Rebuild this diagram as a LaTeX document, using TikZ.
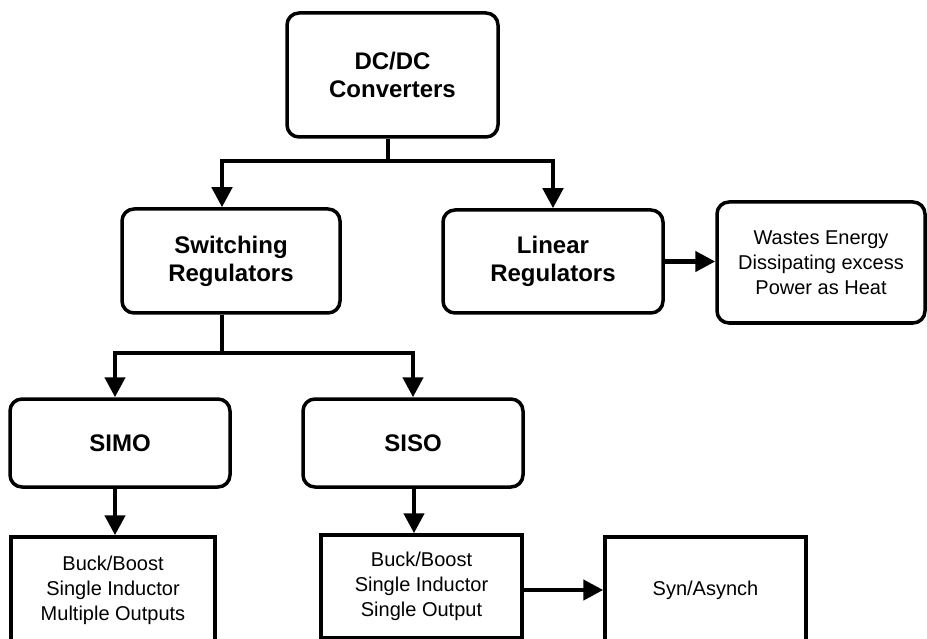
\documentclass[tikz,border=0pt]{standalone}
\usepackage{fontspec}
\setmainfont{Liberation Sans}
\usetikzlibrary{arrows.meta,calc}
\begin{document}
\begin{tikzpicture}[x=1pt,y=-1pt,
  rbox/.style={draw=black,line width=3.5pt,rounded corners=12pt,align=center,inner sep=0pt,
    font=\fontsize{24}{28}\selectfont\bfseries},
  nbox/.style={draw=black,line width=3.5pt,rounded corners=12pt,align=center,inner sep=0pt,
    font=\fontsize{20}{25}\selectfont},
  sbox/.style={draw=black,line width=3.5pt,align=center,inner sep=0pt,
    font=\fontsize{20}{25}\selectfont},
  conn/.style={draw=black,line width=4.5pt},
  arr/.style={conn,-{Triangle[width=20pt,length=20pt]}}
]
\useasboundingbox (0,0) rectangle (927,639);
\clip (0,0) rectangle (927,639);
% nodes
\node[rbox,minimum width=211pt,minimum height=124pt] (dc) at (392.5,75) {DC/DC\\Converters};
\node[rbox,minimum width=218pt,minimum height=104pt] (sw) at (231,261) {Switching\\Regulators};
\node[rbox,minimum width=220pt,minimum height=103pt] (lin) at (553,261.5) {Linear\\Regulators};
\node[nbox,minimum width=208pt,minimum height=121pt] (waste) at (821,262.5) {Wastes Energy\\Dissipating excess\\Power as Heat};
\node[rbox,minimum width=220pt,minimum height=88pt] (simo) at (120,443) {SIMO};
\node[rbox,minimum width=220pt,minimum height=88pt] (siso) at (413,443) {SISO};
\node[sbox,minimum width=204pt,minimum height=106pt] (buck1) at (113,590) {Buck/Boost\\Single Inductor\\Multiple Outputs};
\node[sbox,minimum width=201pt,minimum height=103pt] (buck2) at (421.5,586.5) {Buck/Boost\\Single Inductor\\Single Output};
\node[sbox,minimum width=201pt,minimum height=106pt] (syn) at (705.5,590) {Syn/Asynch};
% junctions
\coordinate (j1) at (388,161);
\coordinate (j2) at (222,353);
% connectors
\draw[conn] (dc.south -| j1) -- (j1);
\draw[arr] (j1) -| ([xshift=-9pt]sw.north);
\draw[arr] (j1) -| (lin.north);
\draw[conn] (sw.south -| j2) -- (j2);
\draw[arr] (j2) -| ([xshift=-5pt]simo.north);
\draw[arr] (j2) -| (siso.north);
\draw[arr] ([xshift=-5pt]simo.south) -- ([xshift=-5pt]simo.south |- buck1.north);
\draw[arr] ([xshift=1pt]siso.south) -- ([xshift=1pt]siso.south |- buck2.north);
\draw[arr] (lin.east) -- (lin.east -| waste.west);
\draw[arr] (buck2.east |- syn.west) -- (syn.west);
\end{tikzpicture}
\end{document}
